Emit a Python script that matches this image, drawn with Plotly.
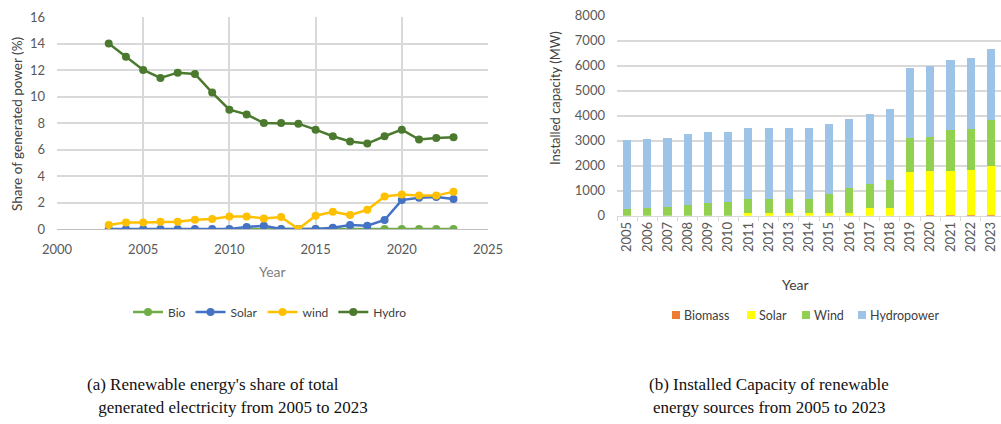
import plotly.graph_objects as go

# ---- (a) share of generated electricity (%) ----
share_years = list(range(2003, 2024))
hydro_share = [14.0, 13.0, 12.0, 11.4, 11.8, 11.7, 10.3, 9.0, 8.65, 8.0, 8.0,
               7.95, 7.5, 7.0, 6.6, 6.45, 7.0, 7.5, 6.75, 6.87, 6.92]
wind_share = [0.3, 0.5, 0.5, 0.55, 0.55, 0.7, 0.75, 0.95, 0.95, 0.8, 0.9,
              0.0, 1.0, 1.3, 1.05, 1.45, 2.45, 2.6, 2.52, 2.52, 2.82]
solar_share = [0, 0, 0, 0, 0, 0, 0, 0, 0.15, 0.25, 0.0,
               0.0, 0.0, 0.1, 0.3, 0.25, 0.68, 2.18, 2.35, 2.42, 2.26]
bio_years = list(range(2011, 2024))
bio_share = [0] * len(bio_years)

# ---- (b) installed capacity (MW) ----
cap_years = [str(y) for y in range(2005, 2024)]
biomass_mw = [0, 0, 0, 0, 0, 0, 0, 0, 0, 0, 0, 0, 0, 0, 0, 40, 40, 40, 40]
solar_mw = [0, 0, 0, 0, 0, 0, 120, 120, 100, 100, 100, 100, 320, 320,
            1730, 1730, 1730, 1790, 1940]
wind_mw = [250, 300, 360, 415, 520, 560, 560, 560, 580, 580, 780, 1020,
           930, 1120, 1390, 1390, 1670, 1650, 1850]
hydro_mw = [2780, 2770, 2760, 2835, 2830, 2790, 2820, 2820, 2820, 2820,
            2800, 2750, 2810, 2820, 2780, 2830, 2800, 2820, 2840]

W, H = 1001, 424
def px(x):
    return x / W
def py(y):
    return 1 - y / H

FONT = "Lato, 'Open Sans', sans-serif"
TICK = dict(family=FONT, size=13, color="#595959")
GRID = "#D9D9D9"
DARK = "#404040"

fig = go.Figure()

line_series = [
    ("Bio", bio_years, bio_share, "#70AD47"),
    ("Solar", share_years, solar_share, "#4472C4"),
    ("wind", share_years, wind_share, "#FFC000"),
    ("Hydro", share_years, hydro_share, "#4B7A2E"),
]
for name, xs, ys, col in line_series:
    fig.add_trace(go.Scatter(
        x=xs, y=ys, name=name, mode="lines+markers",
        line=dict(color=col, width=2.5),
        marker=dict(color=col, size=8),
        xaxis="x", yaxis="y", legend="legend",
    ))

bar_series = [
    ("Biomass", biomass_mw, "#ED7D31"),
    ("Solar", solar_mw, "#FFFF00"),
    ("Wind", wind_mw, "#92D050"),
    ("Hydropower", hydro_mw, "#9DC3E6"),
]
for name, vals, col in bar_series:
    fig.add_trace(go.Bar(
        x=cap_years, y=vals, name=name, marker=dict(color=col, line_width=0),
        xaxis="x2", yaxis="y2", showlegend=False,
    ))

fig.update_layout(
    width=W, height=H, margin=dict(l=0, r=0, t=0, b=0, autoexpand=False),
    paper_bgcolor="white", plot_bgcolor="white",
    font=dict(family=FONT, color="#595959"),
    barmode="stack", bargap=0.6,
    xaxis=dict(
        domain=[px(57), px(488)], anchor="y", range=[2000, 2025],
        tickmode="linear", tick0=2000, dtick=5, tickfont=TICK,
        showgrid=True, gridcolor=GRID, gridwidth=1.5, zeroline=False,
        showline=True, linecolor="#BFBFBF", ticks="", ticklabelstandoff=8,
        automargin=False,
    ),
    yaxis=dict(
        domain=[py(229), py(17)], anchor="x", range=[0, 16],
        tickmode="linear", tick0=0, dtick=2, tickfont=TICK,
        showgrid=True, gridcolor=GRID, gridwidth=1.5, zeroline=False,
        showline=False, ticks="", ticklabelstandoff=11, automargin=False,
    ),
    xaxis2=dict(
        domain=[px(617), 1.0], anchor="y2", type="category",
        tickangle=-90, tickfont=TICK, showgrid=False, zeroline=False,
        showline=True, linecolor="#D9D9D9", ticks="outside", ticklen=4,
        tickcolor="#D9D9D9", tickson="boundaries", automargin=False,
    ),
    yaxis2=dict(
        domain=[py(215.7), py(15.7)], anchor="x2", range=[0, 8000],
        tickmode="linear", tick0=0, dtick=1000, tickfont=TICK,
        showgrid=True, gridcolor=GRID, gridwidth=1.5, zeroline=False,
        showline=False, ticks="", ticklabelstandoff=11, automargin=False,
    ),
    legend=dict(
        orientation="h", x=px(270), y=py(312), xanchor="center", yanchor="middle",
        font=dict(family=FONT, size=12, color=DARK), itemwidth=30,
        bgcolor="rgba(0,0,0,0)", traceorder="normal",
    ),
)

# Axis titles
axis_titles = [
    (17, 124, "Share of generated power (%)", -90, 13.5, DARK),
    (272, 271, "Year", 0, 14, "#7F7F7F"),
    (555, 98, "Installed capacity (MW)", -90, 13, DARK),
    (795, 284, "Year", 0, 14, DARK),
]
for ax, ay, txt, ang, sz, col in axis_titles:
    fig.add_annotation(x=px(ax), y=py(ay), xref="paper", yref="paper",
                       text=txt, showarrow=False, textangle=ang,
                       font=dict(family=FONT, size=sz, color=col),
                       xanchor="center", yanchor="middle")

# Compact key for the capacity bars: swatch + label
key_y = 315
key_x = [672, 747, 802, 858]
for (name, _, col), kx in zip(bar_series, key_x):
    fig.add_shape(type="rect", xref="paper", yref="paper",
                  x0=px(kx), x1=px(kx + 8), y0=py(key_y + 4), y1=py(key_y - 4),
                  fillcolor=col, line_width=0)
    fig.add_annotation(x=px(kx + 10), y=py(key_y), xref="paper", yref="paper",
                       text=name, showarrow=False,
                       font=dict(family=FONT, size=12.5, color=DARK),
                       xanchor="left", yanchor="middle")

CAP = dict(family="'Liberation Serif', 'Times New Roman', serif", size=17, color="#111111")
captions = [
    (213, 384, "(a) Renewable energy's share of total"),
    (231, 407, " generated electricity from 2005 to 2023"),
    (769, 384, "(b) Installed Capacity of renewable"),
    (769, 407, "energy sources from 2005 to 2023"),
]
for cx, cy, txt in captions:
    fig.add_annotation(x=px(cx), y=py(cy), xref="paper", yref="paper",
                       text=txt, showarrow=False, font=CAP,
                       xanchor="center", yanchor="middle")

fig.write_html("out.html")
